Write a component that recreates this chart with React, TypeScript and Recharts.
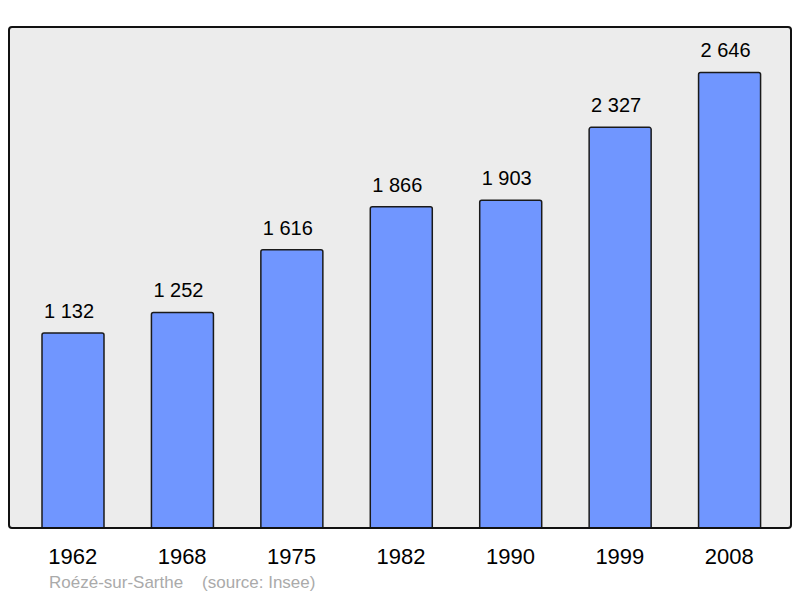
import { BarChart, Bar, XAxis, YAxis, CartesianGrid, LabelList } from "recharts";

const years = ["1962", "1968", "1975", "1982", "1990", "1999", "2008"];
const population = [1132, 1252, 1616, 1866, 1903, 2327, 2646];

const data = years.map((year, i) => ({ year, value: population[i] }));

const fmt = (v: any) => String(v).replace(/\B(?=(\d{3})+(?!\d))/g, " ");

export default function App() {
  return (
    <div style={{ position: "absolute", left: 0, top: 0, width: 800, height: 598, fontFamily: "'Liberation Sans', Arial, sans-serif" }}>
      <BarChart width={800} height={598} data={data} margin={{ top: 27, right: 9, bottom: 0, left: 9 }}>
        <CartesianGrid fill="#ececec" horizontal={false} vertical={false} />
        <XAxis
          dataKey="year"
          height={70}
          axisLine={false}
          tickLine={false}
          tickMargin={14}
          padding={{ left: 9, right: 7 }}
          tick={{ fill: "#000", fontSize: 22 }}
          interval={0}
        />
        <YAxis hide domain={[0, 2910]} />
        <Bar dataKey="value" fill="#7096ff" stroke="#1a1a1a" strokeWidth={1.5} barSize={62} radius={[2, 2, 0, 0]} isAnimationActive={false}>
          <LabelList dataKey="value" position="top" offset={15} formatter={fmt} style={{ fill: "#000", fontSize: 20 }} dx={-4} />
        </Bar>
      </BarChart>
      <div style={{ position: "absolute", left: 8, top: 26, width: 784, height: 503, border: "2px solid #111", borderRadius: 4, boxSizing: "border-box", pointerEvents: "none" }} />
      <div style={{ position: "absolute", left: 49, top: 573, fontSize: 17, color: "#aaa", whiteSpace: "pre" }}>
        {"Roézé-sur-Sarthe    (source: Insee)"}
      </div>
    </div>
  );
}
